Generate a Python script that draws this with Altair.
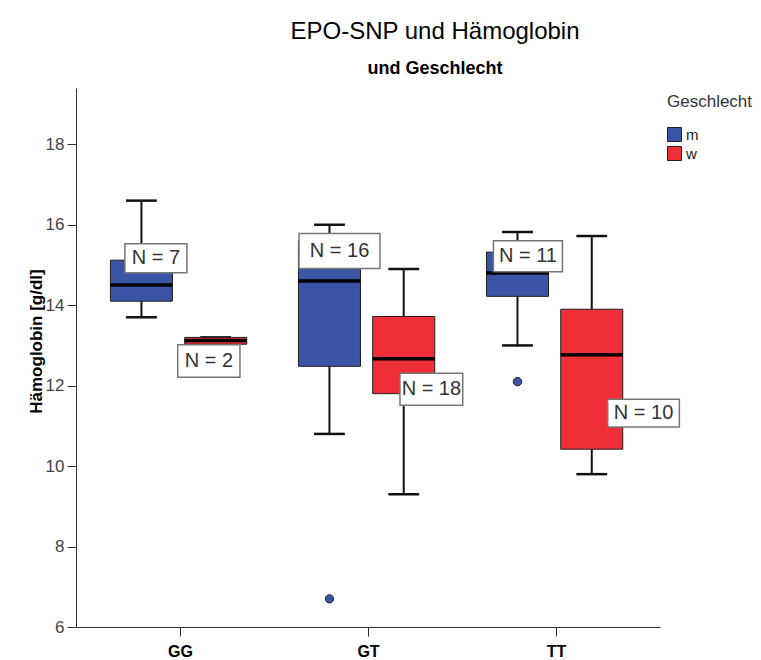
import json
import altair as alt
import pandas as pd

# ---- data ----
genotypes = ["GG", "GT", "TT"]
sexes = ["m", "w"]
colors = ["#3A55A6", "#EE2F38"]

grp_geno = ["GG", "GG", "GT", "GT", "TT", "TT"]
grp_sex = ["m", "w", "m", "w", "m", "w"]
whisk_lo = [13.7, 13.0, 10.8, 9.3, 13.0, 9.8]
q1 = [14.1, 13.03, 12.48, 11.8, 14.22, 10.42]
median = [14.5, 13.12, 14.6, 12.67, 14.8, 12.77]
q3 = [15.12, 13.2, 15.6, 13.72, 15.32, 13.9]
whisk_hi = [16.6, 13.2, 16.0, 14.9, 15.82, 15.72]
n_counts = [7, 2, 16, 18, 11, 10]

outlier_geno = ["GT", "TT"]
outlier_sex = ["m", "m"]
outlier_val = [6.7, 12.1]

# N-label boxes (data units: genotype axis position / g/dl)
lab_left = [0.707, 0.988, 1.633, 2.170, 2.667, 3.275]
lab_right = [1.037, 1.319, 2.064, 2.504, 3.034, 3.656]
lab_top = [15.53, 13.02, 15.78, 12.31, 15.60, 11.66]
lab_bottom = [14.81, 12.21, 14.91, 11.51, 14.83, 10.97]

# ---- layout helpers ----
sex_offset = {"m": -0.205, "w": 0.19}
box_half = 0.165
cap_half = 0.082

def gpos(g, s):
    return genotypes.index(g) + 1 + sex_offset[s]

boxes = pd.DataFrame({
    "geno": grp_geno, "sex": grp_sex, "lo": whisk_lo, "q1": q1,
    "med": median, "q3": q3, "hi": whisk_hi, "n": n_counts,
})
boxes["pos"] = [gpos(g, s) for g, s in zip(grp_geno, grp_sex)]
boxes["x1"] = boxes["pos"] - box_half
boxes["x2"] = boxes["pos"] + box_half
boxes["c1"] = boxes["pos"] - cap_half
boxes["c2"] = boxes["pos"] + cap_half

caps = pd.concat([
    boxes[["c1", "c2", "lo"]].rename(columns={"lo": "v"}),
    boxes[["c1", "c2", "hi"]].rename(columns={"hi": "v"}),
])

outliers = pd.DataFrame({"geno": outlier_geno, "sex": outlier_sex, "v": outlier_val})
outliers["pos"] = [gpos(g, s) for g, s in zip(outlier_geno, outlier_sex)]

labels = pd.DataFrame({
    "l": lab_left, "r": lab_right, "t": lab_top, "b": lab_bottom,
    "txt": [f"N = {n}" for n in n_counts],
})
labels["cx"] = (labels["l"] + labels["r"]) / 2
labels["cy"] = (labels["t"] + labels["b"]) / 2

# ---- scales / axes ----
xscale = alt.Scale(domain=[0.447, 3.553], nice=False, zero=False)
yscale = alt.Scale(domain=[6, 19.4], nice=False, zero=False)
xaxis = alt.Axis(
    values=[1, 2, 3], labelExpr=json.dumps(genotypes) + "[datum.value - 1]",
    title=None, grid=False, labelFontWeight="bold", labelFontSize=16,
    labelColor="black", labelFont="Liberation Sans", tickSize=9,
    tickColor="#333", domainColor="#333", labelPadding=7,
    labelFlush=False, labelOverlap=False,
)
yaxis = alt.Axis(
    values=[6, 8, 10, 12, 14, 16, 18], title="Hämoglobin [g/dl]", grid=False,
    titleFontSize=17, titleFontWeight="bold", titleColor="black",
    titleFont="Liberation Sans", labelFont="Liberation Sans", labelFontSize=17,
    labelColor="#444", tickSize=9, tickColor="#333", domainColor="#333",
    labelPadding=3, titlePadding=0, titleY=253,
)
YT = "Hämoglobin [g/dl]"

def X(f):
    return alt.X(f, type="quantitative", scale=xscale, axis=xaxis)

def Y(f):
    return alt.Y(f, type="quantitative", scale=yscale, axis=yaxis, title=YT)

whiskers = alt.Chart(boxes).mark_rule(color="#111", strokeWidth=2, clip=False).encode(
    x=X("pos"), y=Y("lo"), y2="hi")
capsl = alt.Chart(caps).mark_rule(color="#111", strokeWidth=2.5, clip=False).encode(
    x=X("c1"), x2="c2", y=Y("v"))
boxl = alt.Chart(boxes).mark_bar(stroke="#222", strokeWidth=1, clip=False).encode(
    x=X("x1"), x2="x2", y=Y("q1"), y2="q3",
    color=alt.Color("sex:N", scale=alt.Scale(domain=sexes, range=colors),
                    legend=alt.Legend(title="Geschlecht")),
)
medl = alt.Chart(boxes).mark_rule(color="black", strokeWidth=3.5, clip=False).encode(
    x=X("x1"), x2="x2", y=Y("med"))
outl = alt.Chart(outliers).mark_point(
    shape="circle", filled=True, size=70, fill=colors[0], stroke="#222",
    strokeWidth=1, opacity=1, clip=False).encode(x=X("pos"), y=Y("v"))
labbox = alt.Chart(labels).mark_rect(
    fill="white", stroke="#777", strokeWidth=1.5, clip=False).encode(
    x=X("l"), x2="r", y=Y("t"), y2="b")
labtxt = alt.Chart(labels).mark_text(
    fontSize=20, color="#333", font="Liberation Sans", clip=False).encode(
    x=X("cx"), y=Y("cy"), text="txt:N")

chart = alt.layer(whiskers, capsl, boxl, medl, outl, labbox, labtxt).properties(
    width=584, height=539,
    autosize="none",
    background="white",
    padding={"left": 76, "top": 88, "right": 101, "bottom": 33},
    title=alt.TitleParams(
        text="EPO-SNP und Hämoglobin", subtitle="und Geschlecht",
        font="Liberation Sans", fontSize=24, fontWeight="normal", color="black",
        subtitleFont="Liberation Sans", subtitleFontSize=18,
        subtitleFontWeight="bold", subtitleColor="black",
        anchor="middle", dx=67, offset=10, subtitlePadding=16,
    ),
).configure_view(strokeWidth=0, stroke="transparent").configure_legend(
    orient="none", legendX=591, legendY=6,
    titleFont="Liberation Sans", titleFontSize=17, titleFontWeight="normal",
    titleColor="#333", titlePadding=16,
    labelFont="Liberation Sans", labelFontSize=15, labelColor="#222",
    symbolType="square", symbolSize=196, symbolStrokeColor="#222",
    symbolStrokeWidth=1, rowPadding=0, labelOffset=4,
)

chart.save("out.html", embed_options={"renderer": "svg", "actions": False})
